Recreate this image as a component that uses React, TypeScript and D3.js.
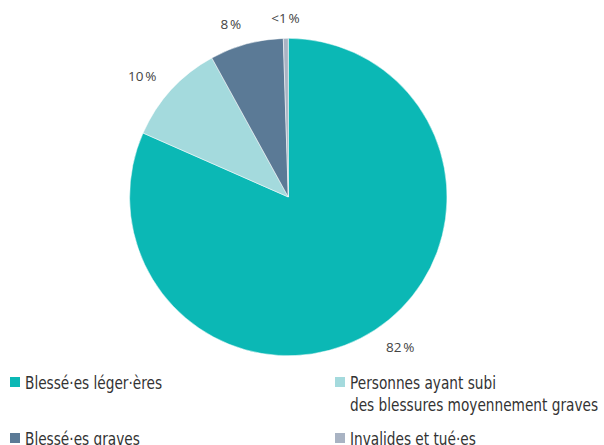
import React from "react";
import * as d3 from "d3";

const categories = [
  "Blessé·es léger·ères",
  "Personnes ayant subi des blessures moyennement graves",
  "Blessé·es graves",
  "Invalides et tué·es",
];
const values = [81.6, 10.4, 7.5, 0.5];
const valueLabels = ["82\u202f%", "10\u202f%", "8\u202f%", "<1\u202f%"];
const colors = ["#0bb8b5", "#a4dadd", "#5b7a96", "#a9b3c3"];
const legendLines = [
  ["Blessé·es léger·ères"],
  ["Personnes ayant subi", "des blessures moyennement graves"],
  ["Blessé·es graves"],
  ["Invalides et tué·es"],
];

const W = 604;
const H = 445;
const cx = 288.3;
const cy = 197;
const R = 158.7;
const labelR = 179;

export default function App() {
  const pie = d3.pie<number>().sort(null).value((d) => d);
  const arcs = pie(values);
  const arcGen = d3.arc<d3.PieArcDatum<number>>().innerRadius(0).outerRadius(R);
  const legendFont = "'DejaVu Sans Condensed', 'DejaVu Sans', sans-serif";
  const labelFont = "'Open Sans', 'Noto Sans', sans-serif";
  const legendPos = [
    { x: 10, y: 377 },
    { x: 335, y: 377 },
    { x: 10, y: 433 },
    { x: 335, y: 433 },
  ];
  return (
    <svg
      width={W}
      height={H}
      style={{ position: "absolute", left: 0, top: 0, background: "#fff" }}
    >
      <g transform={`translate(${cx},${cy})`}>
        {arcs.map((a, i) => (
          <path key={i} d={arcGen(a) || ""} fill={colors[i]} stroke="#fff" strokeWidth={0.5} />
        ))}
        {arcs.map((a, i) => {
          const mid = (a.startAngle + a.endAngle) / 2;
          const s = Math.sin(mid);
          const c = Math.cos(mid);
          const x = labelR * s;
          const y = -labelR * c;
          const anchor = s > 0.1 ? "start" : s < -0.1 ? "end" : "middle";
          return (
            <text
              key={i}
              x={x}
              y={y}
              dy="0.35em"
              textAnchor={anchor}
              fontFamily={labelFont}
              fontSize={13.5}
              fill="#444"
            >
              {valueLabels[i]}
            </text>
          );
        })}
      </g>
      {categories.map((cat, i) => {
        const p = legendPos[i];
        return (
          <g key={cat}>
            <rect x={p.x} y={p.y} width={10} height={10} fill={colors[i]} />
            <text
              transform={`translate(${p.x + 15},${p.y + 12}) scale(0.895,1)`}
              fontFamily={legendFont}
              fontSize={17}
              fill="#333"
            >
              {legendLines[i].map((ln, j) => (
                <tspan key={j} x={0} y={j * 22}>
                  {ln}
                </tspan>
              ))}
            </text>
          </g>
        );
      })}
    </svg>
  );
}
